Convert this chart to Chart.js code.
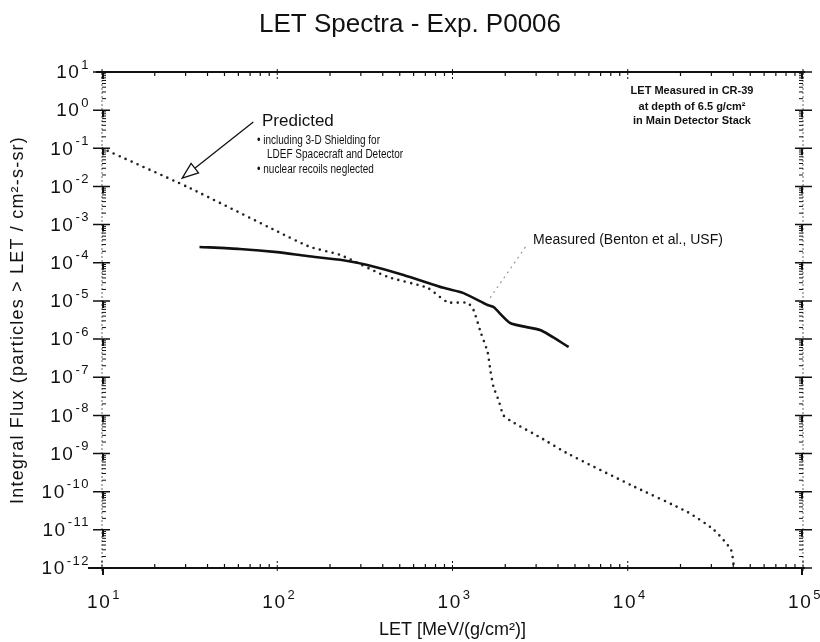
<!DOCTYPE html>
<html>
<head>
<meta charset="utf-8">
<title>LET Spectra - Exp. P0006</title>
<script src="https://cdn.jsdelivr.net/npm/chart.js@4.4.1/dist/chart.umd.min.js"></script>
<style>
  html, body { margin: 0; padding: 0; background: #fff; }
  #chart { display: block; }
</style>
</head>
<body>
<canvas id="chart" width="820" height="642"></canvas>
<script>
// LET [MeV/(g/cm2)] and integral flux
const measuredLet = [36, 61, 100, 148, 238, 327, 525, 889, 1156, 1585, 1715, 2145, 3185, 4600];
const measuredFlux = [2.6e-4, 2.3e-4, 1.9e-4, 1.5e-4, 1.17e-4, 8.7e-5, 4.8e-5, 2.2e-5, 1.6e-5, 7.8e-6, 6.9e-6, 2.6e-6, 1.7e-6, 6.2e-7];

const predictedLet = [10, 30.6, 101, 154, 229, 425, 720, 936, 1218, 1318, 1445, 1585, 1649, 1715, 1832, 1955, 2203, 3185, 4540, 10400, 22000, 31000, 38800, 40400];
const predictedFlux = [1.0e-1, 9.8e-3, 6.5e-4, 2.6e-4, 1.6e-4, 4.3e-5, 2.2e-5, 9.3e-6, 8.9e-6, 5.8e-6, 1.55e-6, 4.6e-7, 1.4e-7, 5.5e-8, 2.5e-8, 1.0e-8, 6.7e-9, 2.6e-9, 1.0e-9, 1.5e-10, 2.9e-11, 1.0e-11, 3.0e-12, 1.0e-12];

// tick labels (powers of ten)
const xTickPowers = [1, 2, 3, 4, 5];
const yTickPowers = [1, 0, -1, -2, -3, -4, -5, -6, -7, -8, -9, -10, -11, -12];

const FONT = '"Liberation Sans", Arial, Helvetica, sans-serif';

function toPoints(xs, ys) {
    return xs.map((x, i) => ({ x: x, y: ys[i] }));
}

// "10" with a raised exponent
function drawPower(ctx, p, x, y, align) {
    ctx.letterSpacing = '1.5px';
    ctx.font = '19px ' + FONT;
    const wb = ctx.measureText('10').width;
    ctx.font = '13px ' + FONT;
    const we = ctx.measureText(String(p)).width;
    const total = wb + 1 + we;
    const x0 = align === 'right' ? x - total : x - total / 2;
    ctx.textAlign = 'left';
    ctx.textBaseline = 'middle';
    ctx.font = '19px ' + FONT;
    ctx.fillText('10', x0, y);
    ctx.font = '13px ' + FONT;
    ctx.fillText(String(p), x0 + wb + 1, y - 8);
    ctx.letterSpacing = '0px';
}

// axis frame with major / minor tick marks on all four sides, plus tick labels
const framePlugin = {
    id: 'frame',
    afterDraw(chart) {
        const ctx = chart.ctx;
        const a = chart.chartArea;
        const xs = chart.scales.x;
        const ys = chart.scales.y;
        ctx.save();

        // left and right axes (faint in the scan)
        ctx.lineWidth = 1;
        ctx.setLineDash([2, 2]);
        ctx.strokeStyle = '#666';
        ctx.beginPath();
        ctx.moveTo(a.left, a.top); ctx.lineTo(a.left, a.bottom);
        ctx.moveTo(a.right, a.top); ctx.lineTo(a.right, a.bottom);
        ctx.stroke();
        ctx.setLineDash([]);

        // top and bottom axes
        ctx.strokeStyle = '#111';
        ctx.lineWidth = 2;
        ctx.beginPath();
        ctx.moveTo(a.left - 6, a.top); ctx.lineTo(a.right + 2, a.top);
        ctx.moveTo(a.left - 14, a.bottom); ctx.lineTo(a.right + 2, a.bottom);
        ctx.stroke();

        // y ticks
        for (let e = -12; e <= 1; e++) {
            const y = ys.getPixelForValue(Math.pow(10, e));
            ctx.lineWidth = 1.5;
            ctx.beginPath();
            ctx.moveTo(a.left - 9, y); ctx.lineTo(a.left + 8, y);
            ctx.moveTo(a.right - 8, y); ctx.lineTo(a.right + 9, y);
            ctx.stroke();
            ctx.lineWidth = 2;
            ctx.beginPath();
            ctx.moveTo(a.left + 1, y); ctx.lineTo(a.left + 1, y + 7);
            ctx.moveTo(a.right - 1, y); ctx.lineTo(a.right - 1, y + 7);
            ctx.stroke();
            if (e === 1) break;
            ctx.lineWidth = 1;
            ctx.beginPath();
            for (let m = 2; m <= 9; m++) {
                const ym = ys.getPixelForValue(m * Math.pow(10, e));
                ctx.moveTo(a.left, ym); ctx.lineTo(a.left + 4, ym);
                ctx.moveTo(a.right - 4, ym); ctx.lineTo(a.right, ym);
            }
            ctx.stroke();
        }

        // x ticks
        for (let e = 1; e <= 5; e++) {
            const x = xs.getPixelForValue(Math.pow(10, e));
            ctx.lineWidth = 1;
            ctx.setLineDash([2, 2]);
            ctx.beginPath();
            ctx.moveTo(x, a.top - 3); ctx.lineTo(x, a.top + 9);
            ctx.moveTo(x, a.bottom + 3); ctx.lineTo(x, a.bottom - 9);
            ctx.stroke();
            ctx.setLineDash([]);
            if (e === 5) break;
            ctx.lineWidth = 1.2;
            ctx.beginPath();
            for (let m = 2; m <= 9; m++) {
                const xm = xs.getPixelForValue(m * Math.pow(10, e));
                ctx.moveTo(xm, a.top); ctx.lineTo(xm, a.top + 4);
                ctx.moveTo(xm, a.bottom); ctx.lineTo(xm, a.bottom - 4);
            }
            ctx.stroke();
        }

        // tick labels
        ctx.fillStyle = '#111';
        yTickPowers.forEach(p => drawPower(ctx, p, a.left - 12, ys.getPixelForValue(Math.pow(10, p)) + 1, 'right'));
        xTickPowers.forEach(p => drawPower(ctx, p, xs.getPixelForValue(Math.pow(10, p)) + 2, a.bottom + 35, 'center'));
        ctx.restore();
    }
};

// title, axis label and the notes / arrows inside the plot
const notesPlugin = {
    id: 'notes',
    afterDraw(chart) {
        const ctx = chart.ctx;
        const xs = chart.scales.x;
        const ys = chart.scales.y;
        const px = v => xs.getPixelForValue(v);
        const py = v => ys.getPixelForValue(v);
        ctx.save();
        ctx.fillStyle = '#111';
        ctx.strokeStyle = '#111';

        ctx.font = '26px ' + FONT;
        ctx.textAlign = 'center';
        ctx.textBaseline = 'middle';
        ctx.fillText('LET Spectra - Exp. P0006', 410, 25);

        ctx.save();
        ctx.translate(18, 320);
        ctx.rotate(-Math.PI / 2);
        ctx.font = '18px ' + FONT;
        ctx.letterSpacing = '1.2px';
        ctx.fillText('Integral Flux (particles > LET / cm\u00B2-s-sr)', 0, 0);
        ctx.restore();

        // arrow pointing at the predicted curve
        const tx = px(73), ty = py(0.49);
        const hx = px(28.7), hy = py(1.66e-2);
        const ang = Math.atan2(hy - ty, hx - tx);
        const hl = 16, hw = 6;
        const bx = hx - hl * Math.cos(ang), by = hy - hl * Math.sin(ang);
        ctx.lineWidth = 1.3;
        ctx.beginPath();
        ctx.moveTo(tx, ty); ctx.lineTo(bx, by);
        ctx.stroke();
        ctx.beginPath();
        ctx.moveTo(hx, hy);
        ctx.lineTo(bx + hw * Math.sin(ang), by - hw * Math.cos(ang));
        ctx.lineTo(bx - hw * Math.sin(ang), by + hw * Math.cos(ang));
        ctx.closePath();
        ctx.fillStyle = '#fff';
        ctx.fill();
        ctx.stroke();
        ctx.fillStyle = '#111';

        // leader to the measured curve
        ctx.strokeStyle = '#999';
        ctx.lineWidth = 1.2;
        ctx.setLineDash([2, 4]);
        ctx.beginPath();
        ctx.moveTo(px(2610), py(2.6e-4)); ctx.lineTo(px(1607), py(1.06e-5));
        ctx.stroke();
        ctx.setLineDash([]);

        ctx.textAlign = 'left';
        ctx.font = '17px ' + FONT;
        ctx.fillText('Predicted', 262, 121);

        // narrow bullet text
        ctx.save();
        ctx.scale(0.8, 1);
        ctx.font = '12.5px ' + FONT;
        ctx.fillText('\u2022 including 3-D Shielding for', 257 / 0.8, 141);
        ctx.fillText('LDEF Spacecraft and Detector', 267 / 0.8, 155);
        ctx.fillText('\u2022 nuclear recoils neglected', 257 / 0.8, 170);
        ctx.restore();

        ctx.font = '14px ' + FONT;
        ctx.fillText('Measured (Benton et al., USF)', 533, 240);

        ctx.textAlign = 'center';
        ctx.font = 'bold 11px ' + FONT;
        ctx.fillText('LET Measured in CR-39', 692, 91);
        ctx.fillText('at depth of 6.5 g/cm\u00B2', 692, 107);
        ctx.fillText('in Main Detector Stack', 692, 121);
        ctx.restore();
    }
};

const ctx = document.getElementById('chart').getContext('2d');
const chart = new Chart(ctx, {
    type: 'line',
    data: {
        datasets: [{
            label: 'Measured (Benton et al., USF)',
            data: toPoints(measuredLet, measuredFlux),
            borderColor: '#111',
            borderWidth: 2.6,
            pointRadius: 0,
            tension: 0.2,
            fill: false
        }, {
            label: 'Predicted',
            data: toPoints(predictedLet, predictedFlux),
            borderColor: '#222',
            borderWidth: 2.6,
            borderDash: [0, 6.5],
            borderCapStyle: 'round',
            pointRadius: 0,
            tension: 0.2,
            fill: false
        }]
    },
    options: {
        responsive: false,
        animation: false,
        devicePixelRatio: 1,
        layout: {
            padding: { top: 72, right: 17, bottom: 0, left: 0 }
        },
        plugins: {
            legend: { display: false },
            tooltip: { enabled: false }
        },
        scales: {
            x: {
                type: 'logarithmic',
                position: 'bottom',
                min: 10,
                max: 1e5,
                grid: { display: false },
                border: { display: false },
                afterFit: s => { s.height = 74; },
                ticks: { display: false },
                title: {
                    display: true,
                    text: 'LET [MeV/(g/cm\u00B2)]',
                    color: '#111',
                    font: { family: FONT, size: 18 },
                    padding: { top: 0, bottom: 1 }
                }
            },
            y: {
                type: 'logarithmic',
                position: 'left',
                min: 1e-12,
                max: 10,
                grid: { display: false },
                border: { display: false },
                afterFit: s => { s.width = 102; },
                ticks: { display: false }
            }
        }
    },
    plugins: [framePlugin, notesPlugin]
});
</script>
</body>
</html>
